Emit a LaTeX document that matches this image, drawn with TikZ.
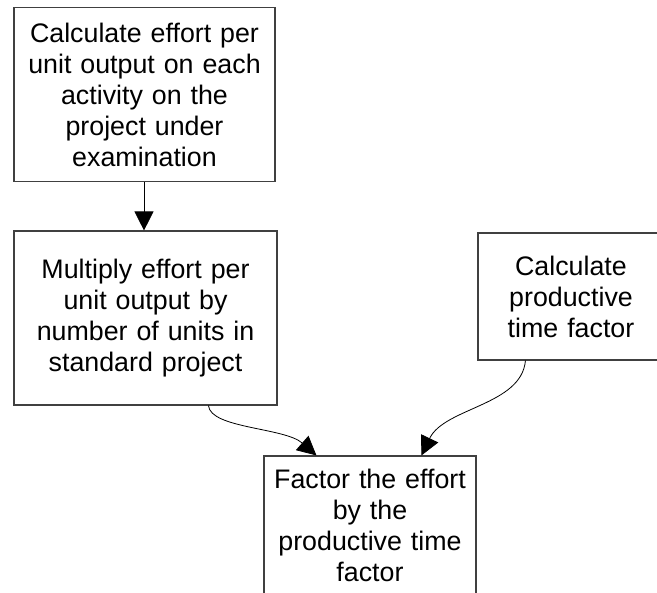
\documentclass[tikz,border=0pt]{standalone}
\usepackage{fontspec}
\setmainfont{Liberation Sans}
\usetikzlibrary{arrows.meta}

\begin{document}
\begin{tikzpicture}[x=1pt,y=-1pt,
  stepbox/.style={draw=black!75, line width=1.1pt, inner sep=0pt, align=center,
    font=\fontsize{26.8}{31}\selectfont},
  flow/.style={line width=0.8pt, -{Triangle[length=19pt,width=19pt]}}]
  \useasboundingbox[fill=white] (0,0) rectangle (657,593);
  \clip (0,0) rectangle (657,593);

  % process boxes
  \node[stepbox, text width=261pt, minimum height=174pt] (b1) at (144.5,94.5)
    {Calculate effort per\\unit output on each\\activity on the\\project under\\examination};
  \node[stepbox, text width=263pt, minimum height=174pt] (b2) at (145.5,318)
    {Multiply effort per\\unit output by\\number of units in\\standard project};
  \node[stepbox, text width=186pt, minimum height=127pt] (b3) at (571,296.5)
    {Calculate\\productive\\time factor};
  \node[stepbox, text width=212pt, minimum height=139pt] (b4) at (370,525.5)
    {Factor the effort\\by the\\productive time\\factor};

  % connector end points
  \coordinate (s1) at ([xshift=-0.5pt]b1.south);
  \coordinate (s2) at ([xshift=195pt]b2.south west);
  \coordinate (t2) at ([xshift=53pt]b4.north west);
  \coordinate (s3) at ([xshift=48pt]b3.south west);
  \coordinate (t3) at ([xshift=158pt]b4.north west);

  % connectors
  \draw[flow] (s1) -- (s1 |- b2.north);
  \draw[flow] (s2) .. controls ([shift={(2,23)}]s2) and ([shift={(-32,-28)}]t2) .. (t2);
  \draw[flow] (s3) .. controls ([shift={(-4,45)}]s3) and ([shift={(23,-48)}]t3) .. (t3);
\end{tikzpicture}
\end{document}
